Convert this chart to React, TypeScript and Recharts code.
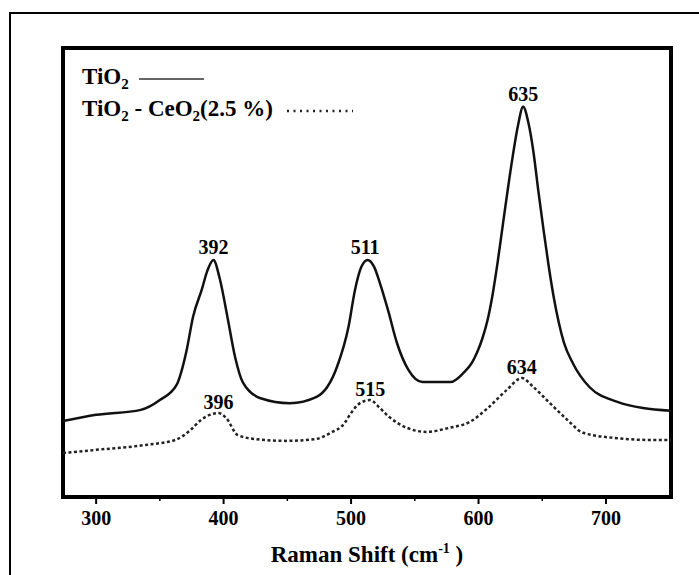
import { LineChart, Line, XAxis, YAxis, ReferenceArea, ReferenceDot, Legend } from "recharts";

const SERIF = '"Liberation Serif", "Times New Roman", serif';

// Raman shift (cm-1) and intensity (a.u.)
const shiftTiO2 = [
  274, 300, 335, 350, 363, 371, 376, 383, 387, 392, 397, 403, 409, 415, 429, 452, 473, 489, 498, 503,
  508, 513, 518, 523, 529, 536, 545, 556, 578, 588, 595, 599, 603, 607, 611, 615, 619, 623, 627, 631,
  635, 639, 643, 647, 651, 655, 659, 663, 667, 674, 687, 709, 729, 751,
];
const intensityTiO2 = [
  16.9, 18.3, 19.4, 21.6, 24.9, 32.7, 40.1, 46.3, 50.2, 52.8, 48.6, 40.1, 31.2, 25.6, 22.0, 20.9, 22.3, 29.0, 37.9, 46.0,
  51.2, 52.8, 51.3, 47.3, 41.6, 34.3, 28.3, 25.6, 25.6, 27.6, 30.0, 32.3, 35.3, 39.3, 45.0, 52.3, 60.5, 68.6, 76.2, 82.8,
  86.9, 83.5, 77.0, 68.0, 59.5, 51.5, 44.5, 38.8, 34.4, 29.8, 24.5, 21.2, 19.8, 19.2,
];

const shiftCe = [
  274, 300, 339, 362, 374, 382, 389, 396, 402, 411, 425, 449, 472, 484, 495, 499, 507, 515, 522, 530,
  544, 559, 577, 593, 608, 622, 634, 643, 656, 670, 682, 709, 735, 751,
];
const intensityCe = [
  9.8, 10.5, 11.6, 12.7, 14.9, 17.1, 18.3, 18.7, 17.6, 13.8, 12.9, 12.5, 12.9, 14.3, 16.5, 18.3, 20.9, 21.6, 20.0, 17.8,
  15.4, 14.5, 15.4, 16.7, 20.0, 23.8, 26.5, 24.5, 20.9, 17.1, 14.3, 13.1, 12.7, 12.7,
];

// peak annotations
const peaksTiO2 = [392, 511, 635];
const peaksCe = [396, 515, 634];

const xTicks = [300, 350, 400, 450, 500, 550, 600, 650, 700];

const tio2 = shiftTiO2.map((x, i) => ({ x, y: intensityTiO2[i] }));
const tio2Ce = shiftCe.map((x, i) => ({ x, y: intensityCe[i] }));

// height of the curve around a labelled peak
const peakTop = (xs: number[], ys: number[], p: number) =>
  Math.max(...ys.filter((_, i) => Math.abs(xs[i] - p) <= 4));

function ShiftTick({ x, y, payload }: any) {
  const major = payload.value % 100 === 0;
  return (
    <g>
      <line x1={x} x2={x} y1={y} y2={y + (major ? 7 : 4)} stroke="#000" strokeWidth={major ? 2 : 1.5} />
      {major && (
        <text x={x} y={y + 28} textAnchor="middle" fontFamily={SERIF} fontWeight="bold" fontSize={20} fill="#000">
          {payload.value}
        </text>
      )}
    </g>
  );
}

function AxisTitle({ viewBox }: any) {
  const cx = viewBox.x + viewBox.width / 2;
  return (
    <text x={cx} y={viewBox.y + 65} textAnchor="middle" fontFamily={SERIF} fontWeight="bold" fontSize={23} fill="#000">
      <tspan>Raman Shift (cm</tspan>
      <tspan dy={-9} fontSize={14}>-1</tspan>
      <tspan dy={9}> )</tspan>
    </text>
  );
}

function SampleKey() {
  const sub = { fontSize: 15, lineHeight: 0, verticalAlign: "-5px" } as const;
  return (
    <div style={{ fontFamily: SERIF, fontWeight: "bold", fontSize: 23, lineHeight: "32px", color: "#000", whiteSpace: "nowrap" }}>
      <div>
        TiO<span style={sub}>2</span>
        <svg width={80} height={10} style={{ marginLeft: 2, verticalAlign: "middle" }}>
          <line x1={8} x2={73} y1={5} y2={5} stroke="#333" strokeWidth={1.5} />
        </svg>
      </div>
      <div>
        TiO<span style={sub}>2</span> - CeO<span style={sub}>2</span>(2.5 %)
        <svg width={80} height={10} style={{ marginLeft: 6, verticalAlign: "middle" }}>
          <line x1={8} x2={74} y1={5} y2={5} stroke="#222" strokeWidth={2.5} strokeDasharray="2 4.5" />
        </svg>
      </div>
    </div>
  );
}

export default function App() {
  return (
    <div style={{ position: "absolute", left: 0, top: 0, width: 699, height: 575, overflow: "hidden", background: "#fff" }}>
      <div style={{ position: "absolute", left: 9, top: 12, width: 800, height: 700, border: "2px solid #000" }} />
      <div style={{ position: "absolute", left: 0, top: 0 }}>
        <LineChart width={699} height={575} margin={{ top: 48, right: 28, bottom: 0, left: 63 }}>
          <XAxis
            type="number"
            dataKey="x"
            domain={[274, 751]}
            ticks={xTicks}
            allowDataOverflow
            axisLine={false}
            tickLine={false}
            tickSize={0}
            tickMargin={0}
            height={78}
            tick={<ShiftTick />}
            label={<AxisTitle />}
          />
          <YAxis type="number" domain={[0, 100]} hide allowDataOverflow />
          <ReferenceArea x1={274} x2={751} y1={0} y2={100} fill="none" stroke="#000" strokeWidth={4} ifOverflow="visible" />
          <Line
            data={tio2}
            dataKey="y"
            type="monotone"
            stroke="#111"
            strokeWidth={2.5}
            dot={false}
            isAnimationActive={false}
          />
          <Line
            data={tio2Ce}
            dataKey="y"
            type="monotone"
            stroke="#222"
            strokeWidth={2.5}
            strokeDasharray="3 2.5"
            dot={false}
            isAnimationActive={false}
          />
          {peaksTiO2.map((p) => (
            <ReferenceDot
              key={`a${p}`}
              x={p}
              y={peakTop(shiftTiO2, intensityTiO2, p)}
              r={0}
              ifOverflow="visible"
              label={{ value: String(p), position: "top", offset: 6, fontFamily: SERIF, fontWeight: "bold", fontSize: 20, fill: "#000" }}
            />
          ))}
          {peaksCe.map((p) => (
            <ReferenceDot
              key={`b${p}`}
              x={p}
              y={peakTop(shiftCe, intensityCe, p)}
              r={0}
              ifOverflow="visible"
              label={{ value: String(p), position: "top", offset: 4, fontFamily: SERIF, fontWeight: "bold", fontSize: 20, fill: "#000" }}
            />
          ))}
          <Legend
            layout="vertical"
            align="center"
            verticalAlign="middle"
            content={<SampleKey />}
            wrapperStyle={{ left: 82, top: 61, width: "auto", height: "auto" }}
          />
        </LineChart>
      </div>
    </div>
  );
}
